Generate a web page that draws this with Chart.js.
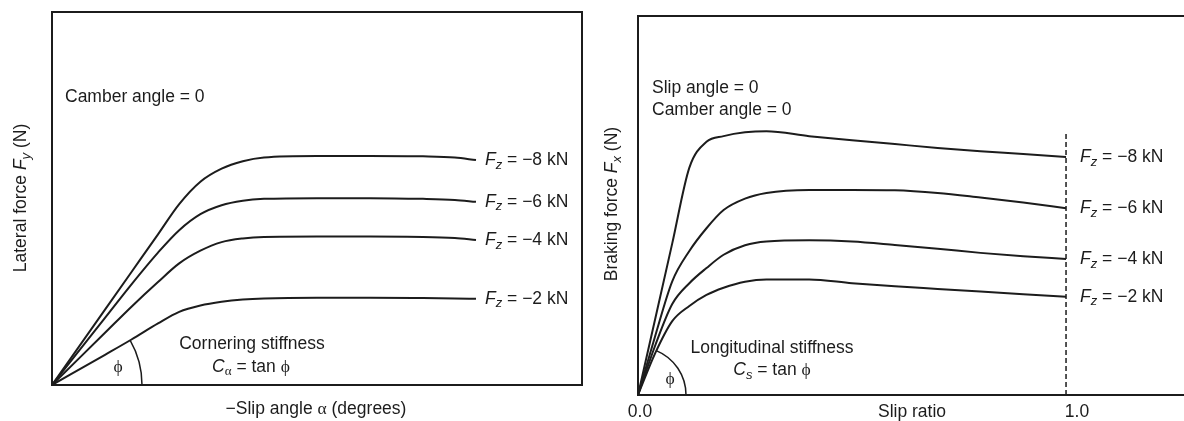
<!DOCTYPE html>
<html>
<head>
<meta charset="utf-8">
<script src="https://cdn.jsdelivr.net/npm/chart.js@4.4.1/dist/chart.umd.min.js"></script>
<style>
    html, body { margin: 0; padding: 0; background: #fff; overflow: hidden; }
    #wrap { position: relative; width: 1184px; height: 421px; overflow: hidden; }
    #leftChart { position: absolute; left: 0; top: 0; }
    #rightChart { position: absolute; left: 590px; top: 0; }
</style>
</head>
<body>
<div id="wrap">
    <canvas id="leftChart" width="600" height="421"></canvas>
    <canvas id="rightChart" width="620" height="421"></canvas>
</div>
<script>
// Load cases (kN)
const loadLabels = ["−8", "−6", "−4", "−2"];

// Left: lateral force vs slip angle (arbitrary units, 0-100)
const slipAngle = [0, 10, 15, 20, 24, 28, 32, 36, 40, 50, 60, 70, 76, 80];
const lateral8 = [0, 20.2, 30.3, 40.4, 48.5, 54.5, 58.0, 60.0, 61.0, 61.4, 61.4, 61.3, 61.0, 60.3];
const lateral6 = [0, 18.0, 27.0, 35.5, 41.5, 45.8, 48.2, 49.4, 49.9, 50.1, 50.1, 49.9, 49.6, 49.1];
const lateral4 = [0, 14.0, 21.0, 27.6, 32.6, 36.0, 38.3, 39.3, 39.7, 39.8, 39.8, 39.7, 39.4, 38.9];
const lateral2 = [0, 8.1, 12.2, 16.5, 19.6, 21.3, 22.3, 22.9, 23.2, 23.4, 23.4, 23.3, 23.2, 23.1];

// Right: braking force vs slip ratio (arbitrary units, 0-100)
const slipRatio = [0, 0.04, 0.08, 0.12, 0.16, 0.2, 0.25, 0.3, 0.4, 0.5, 0.6, 0.7, 0.8, 0.9, 1.0];
const braking8 = [0, 20.0, 40.0, 60.0, 66.8, 68.3, 69.3, 69.6, 68.3, 67.2, 66.2, 65.2, 64.3, 63.6, 62.8];
const braking6 = [0, 15.5, 30.0, 38.0, 44.0, 48.8, 51.8, 53.3, 54.1, 54.1, 54.0, 53.3, 52.1, 50.8, 49.3];
const braking4 = [0, 13.0, 24.0, 29.5, 33.5, 37.0, 39.5, 40.5, 40.8, 40.5, 39.6, 38.6, 37.5, 36.6, 35.9];
const braking2 = [0, 11.0, 19.5, 23.5, 26.4, 28.3, 29.9, 30.5, 30.5, 29.5, 28.7, 28.0, 27.3, 26.6, 25.9];

// Locked-wheel marker (slip ratio 1.0)
const lockX = [1, 1];
const lockY = [0, 69];

const slipRatioTicks = [0, 1];
const slipRatioTickLabels = ["0.0", "1.0"];

const INK = "#1c1c1c";
const SANS = '"Liberation Sans", Arial, Helvetica, sans-serif';
const SERIF = '"Liberation Serif", "Times New Roman", serif';
const PHI = "ϕ";

function toPoints(xs, ys) {
    return xs.map((x, i) => ({ x: x, y: ys[i] }));
}

function fontFor(p) {
    return (p.it ? "italic " : "") + (p.sub ? 13 : 17.5) + "px " + (p.serif ? SERIF : SANS);
}

// draw a run of mixed text (italic / subscript / serif parts)
function richText(ctx, parts, x, y, align) {
    let w = 0;
    parts.forEach(p => { ctx.font = fontFor(p); w += ctx.measureText(p.t).width; });
    let cx = align === "center" ? x - w / 2 : x;
    parts.forEach(p => {
        ctx.font = fontFor(p);
        ctx.fillText(p.t, cx, y + (p.sub ? 5 : 0));
        cx += ctx.measureText(p.t).width;
    });
}

function loadParts(v) {
    return [{ t: "F", it: 1 }, { t: "z", it: 1, sub: 1 }, { t: " = " + v + " kN" }];
}

function makeDatasets(xs, seriesList) {
    return seriesList.map(ys => ({
        data: toPoints(xs, ys),
        borderColor: INK,
        borderWidth: 2,
        pointRadius: 0,
        cubicInterpolationMode: "monotone"
    }));
}

// Frame, angle arc and annotation text
function figurePlugin(cfg) {
    return {
        id: "figure",
        afterDraw(chart) {
            const ctx = chart.ctx;
            const a = chart.chartArea;
            ctx.save();
            ctx.strokeStyle = INK;
            ctx.fillStyle = INK;
            ctx.lineWidth = 2;
            ctx.strokeRect(a.left, a.top, a.right - a.left, a.bottom - a.top);

            // stiffness angle arc, from the lowest load curve down to the axis
            const xs = chart.scales.x, ys = chart.scales.y;
            const ox = xs.getPixelForValue(0), oy = ys.getPixelForValue(0);
            const p1 = chart.getDatasetMeta(3).data[1];
            const ang = Math.atan2(oy - p1.y, p1.x - ox);
            ctx.lineWidth = 1.5;
            ctx.beginPath();
            ctx.arc(ox, oy, cfg.arcR, -ang, 0);
            ctx.stroke();

            ctx.textBaseline = "middle";
            ctx.textAlign = "left";

            // load labels at the curve ends
            for (let i = 0; i < 4; i++) {
                const pts = chart.getDatasetMeta(i).data;
                const last = pts[pts.length - 1];
                richText(ctx, loadParts(loadLabels[i]), last.x + cfg.labelGap, last.y, "left");
            }

            cfg.notes.forEach(n => richText(ctx, n.parts, n.x, n.y, n.align));

            // y axis title (rotated)
            ctx.save();
            ctx.translate(cfg.yTitle.x, cfg.yTitle.y);
            ctx.rotate(-Math.PI / 2);
            richText(ctx, cfg.yTitle.parts, 0, 0, "center");
            ctx.restore();

            richText(ctx, cfg.xTitle.parts, cfg.xTitle.x, cfg.xTitle.y, "center");

            if (cfg.ticks) {
                cfg.ticks.values.forEach((v, i) => {
                    const px = xs.getPixelForValue(v) + (v > 0 ? 11 : 2);
                    richText(ctx, [{ t: cfg.ticks.labels[i] }], px, cfg.ticks.y, "center");
                });
            }
            ctx.restore();
        }
    };
}

function baseOptions(padding, xmax) {
    return {
        responsive: false,
        animation: false,
        layout: { padding: padding },
        plugins: { legend: { display: false }, tooltip: { enabled: false } },
        scales: {
            x: { type: "linear", min: 0, max: xmax, display: false },
            y: { min: 0, max: 100, display: false }
        }
    };
}

// Left panel
new Chart(document.getElementById("leftChart"), {
    type: "line",
    data: { datasets: makeDatasets(slipAngle, [lateral8, lateral6, lateral4, lateral2]) },
    options: baseOptions({ left: 52, right: 18, top: 12, bottom: 36 }, 100),
    plugins: [figurePlugin({
        arcR: 90,
        labelGap: 9,
        notes: [
            { parts: [{ t: "Camber angle = 0" }], x: 65, y: 97, align: "left" },
            { parts: [{ t: "Cornering stiffness" }], x: 252, y: 344, align: "center" },
            { parts: [{ t: "C", it: 1 }, { t: "α", sub: 1, serif: 1 }, { t: " = tan " }, { t: PHI, serif: 1 }], x: 251, y: 367, align: "center" },
            { parts: [{ t: PHI, serif: 1 }], x: 118, y: 367, align: "center" }
        ],
        yTitle: { x: 21, y: 198, parts: [{ t: "Lateral force " }, { t: "F", it: 1 }, { t: "y", it: 1, sub: 1 }, { t: " (N)" }] },
        xTitle: { x: 316, y: 409, parts: [{ t: "−Slip angle " }, { t: "α", serif: 1 }, { t: " (degrees)" }] }
    })]
});

// Right panel
const rightDatasets = makeDatasets(slipRatio, [braking8, braking6, braking4, braking2]);
rightDatasets.push({
    data: toPoints(lockX, lockY),
    borderColor: INK,
    borderWidth: 1.5,
    borderDash: [5, 3],
    pointRadius: 0
});

new Chart(document.getElementById("rightChart"), {
    type: "line",
    data: { datasets: rightDatasets },
    options: baseOptions({ left: 48, right: 10, top: 16, bottom: 26 }, 1.313),
    plugins: [figurePlugin({
        arcR: 48,
        labelGap: 14,
        notes: [
            { parts: [{ t: "Slip angle = 0" }], x: 62, y: 88, align: "left" },
            { parts: [{ t: "Camber angle = 0" }], x: 62, y: 110, align: "left" },
            { parts: [{ t: "Longitudinal stiffness" }], x: 182, y: 348, align: "center" },
            { parts: [{ t: "C", it: 1 }, { t: "s", it: 1, sub: 1 }, { t: " = tan " }, { t: PHI, serif: 1 }], x: 182, y: 370, align: "center" },
            { parts: [{ t: PHI, serif: 1 }], x: 80, y: 379, align: "center" }
        ],
        yTitle: { x: 22, y: 204, parts: [{ t: "Braking force " }, { t: "F", it: 1 }, { t: "x", it: 1, sub: 1 }, { t: " (N)" }] },
        xTitle: { x: 322, y: 412, parts: [{ t: "Slip ratio" }] },
        ticks: { values: slipRatioTicks, labels: slipRatioTickLabels, y: 412 }
    })]
});
</script>
</body>
</html>
